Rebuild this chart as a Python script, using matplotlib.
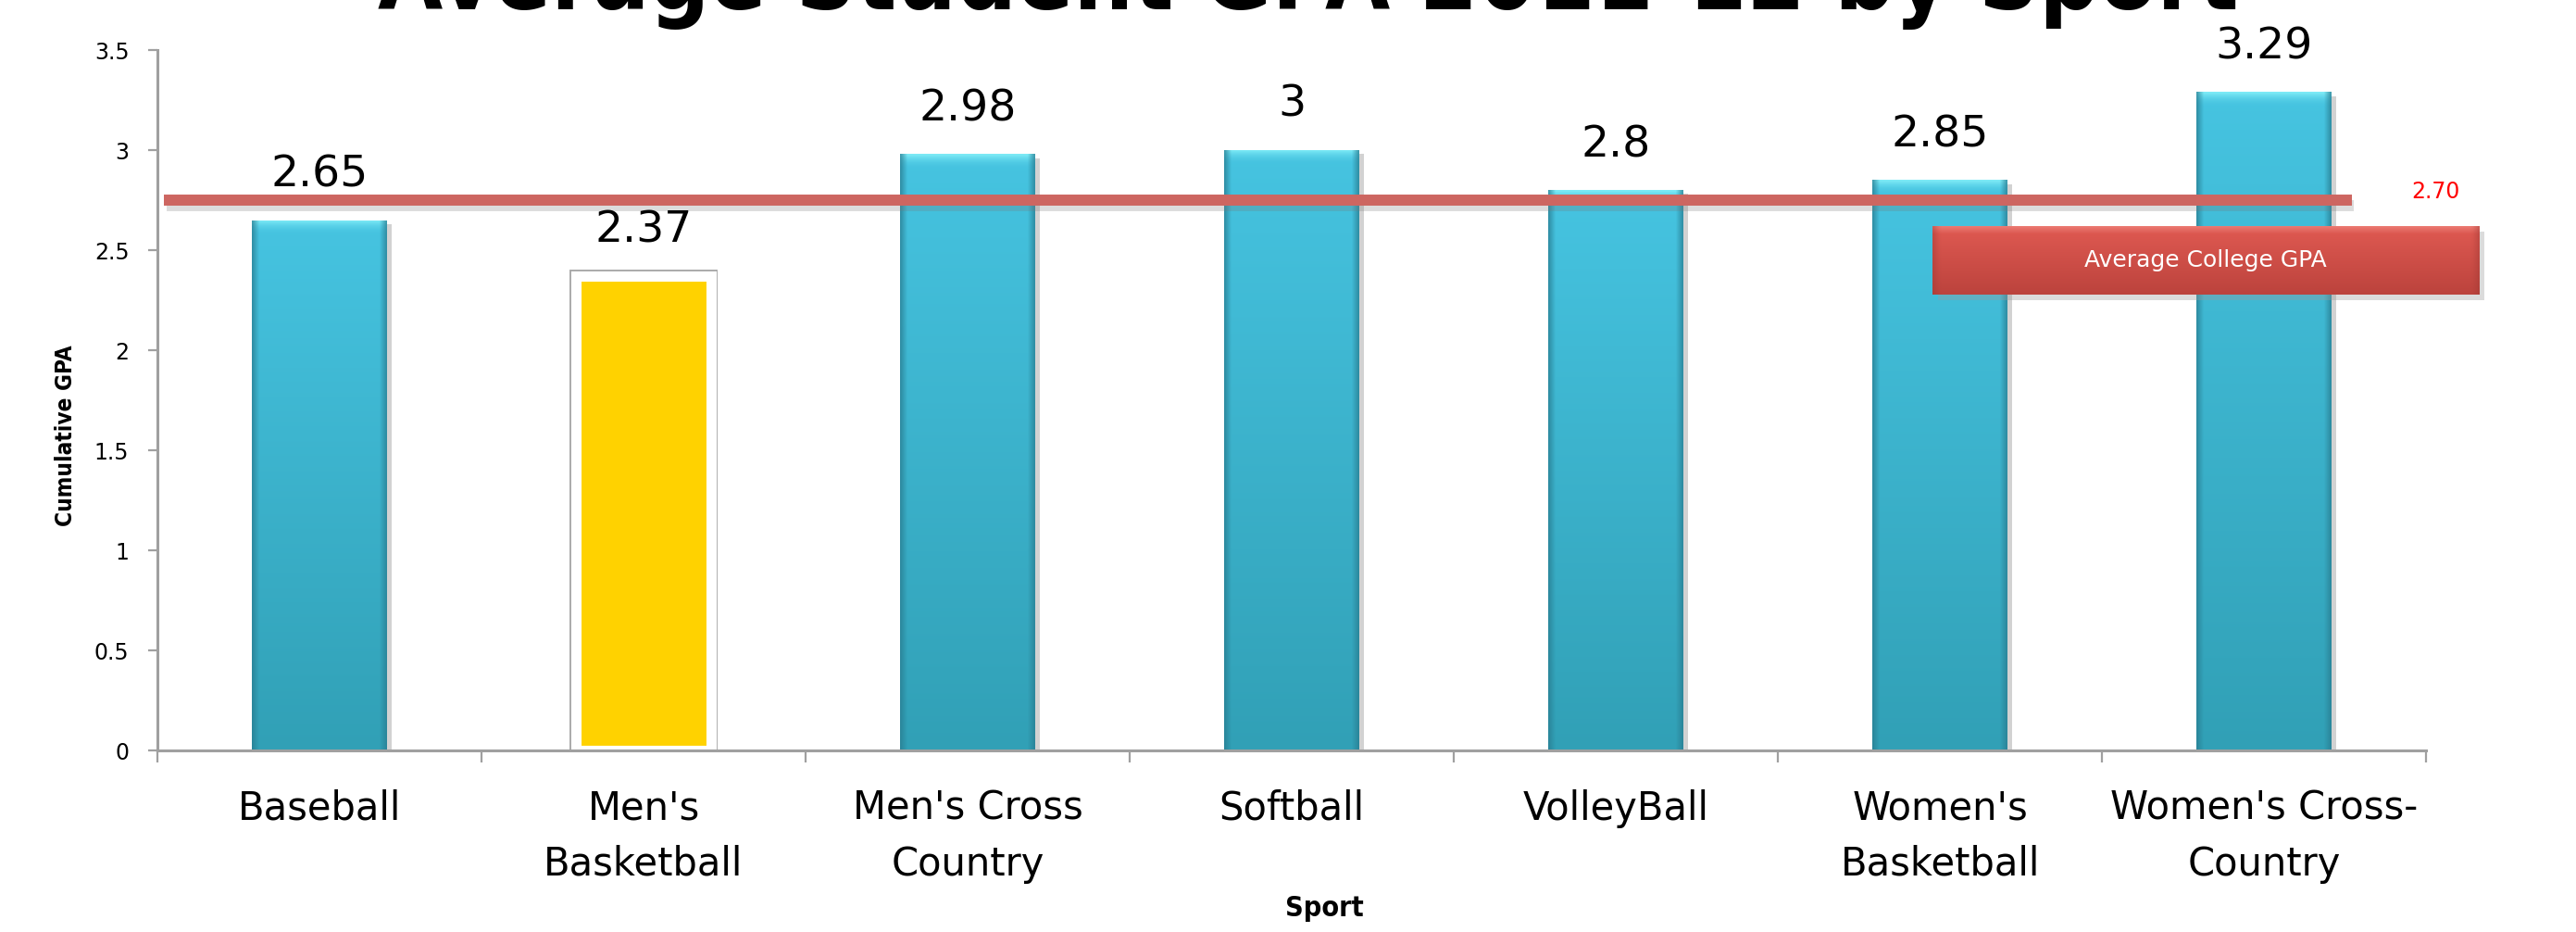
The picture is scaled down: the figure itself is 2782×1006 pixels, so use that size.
import numpy as np
import matplotlib
matplotlib.use("Agg")
import matplotlib.pyplot as plt
import matplotlib.patheffects as pe
from matplotlib.patches import Rectangle
from matplotlib.colors import to_rgb

# data
title = "Average Student GPA 2011-12 by Sport"
sports = ["Baseball", "Men's\nBasketball", "Men's Cross\nCountry", "Softball",
          "VolleyBall", "Women's\nBasketball", "Women's Cross-\nCountry"]
gpa = [2.65, 2.37, 2.98, 3.00, 2.80, 2.85, 3.29]
highlight = "Men's\nBasketball"
college_avg_text = "2.70"
college_avg_line = 2.75      # where the red line sits on the chart
college_line_span = (-0.48, 6.27)
yticks = [0, 0.5, 1, 1.5, 2, 2.5, 3, 3.5]
ytick_labels = ["0", "0.5", "1", "1.5", "2", "2.5", "3", "3.5"]

NARROW = ["Liberation Sans Narrow", "DejaVu Sans"]

fig = plt.figure(figsize=(27.82, 10.06), dpi=100)
ax = fig.add_axes([0.0611, 0.1948, 0.8807, 0.7515])

x = np.arange(len(sports))
bar_w = 0.415


def blue_fill(h):
    ny, nx = 300, 80
    t = np.linspace(0, 1, ny)[:, None]
    u = np.linspace(0, 1, nx)[None, :]
    bot = np.array(to_rgb("#31A0B6"))
    top = np.array(to_rgb("#46C4E1"))
    img = bot + (top - bot) * t[..., None]
    img = np.broadcast_to(img, (ny, nx, 3)).copy()
    d = (1 - t) * h
    wt = np.clip(1 - d / 0.07, 0, 1) ** 2 * 0.8
    hl = np.array(to_rgb("#8AF3FB"))
    img = img * (1 - wt[..., None]) + hl * wt[..., None]
    e = np.clip(1 - np.minimum(u, 1 - u) / 0.05, 0, 1) * 0.7
    dark = np.array(to_rgb("#287C90"))
    img = img * (1 - e[..., None]) + dark * e[..., None]
    return img


bars = ax.bar(x, gpa, width=bar_w, color="#42BCDB", zorder=2)
for b, name, v in zip(bars, sports, gpa):
    if name == highlight:
        b.set_facecolor("#FFD200")
        b.set_edgecolor("white")
        b.set_linewidth(8)
        b.set_path_effects([pe.Stroke(linewidth=10, foreground="#A8A8A8"), pe.Normal()])
    else:
        b.set_path_effects([pe.SimplePatchShadow(offset=(4, -3), shadow_rgbFace="#808080", alpha=0.35),
                            pe.Normal()])
        im = ax.imshow(blue_fill(v), extent=(b.get_x(), b.get_x() + b.get_width(), 0, v),
                       origin="lower", aspect="auto", interpolation="bilinear", zorder=2.1)
        im.set_clip_path(b)
    ax.annotate(f"{v:g}", (b.get_x() + b.get_width() / 2, v), xytext=(0, 26),
                textcoords="offset points", ha="center", va="baseline",
                fontsize=34, color="black", zorder=5)

# college average line
ax.plot(college_line_span, [college_avg_line, college_avg_line], color="#CD6661",
        lw=8.6, solid_capstyle="butt", zorder=4,
        path_effects=[pe.SimpleLineShadow(offset=(2, -4), shadow_color="#777777", alpha=0.25),
                      pe.Normal()])
ax.text(6.53, 2.79, college_avg_text, color="#FF0000", fontsize=17, ha="center",
        va="center", family=NARROW)

ax.set_xlim(-0.5, 6.5)
ax.set_ylim(0, 3.5)
ax.set_yticks(yticks)
ax.set_yticklabels(ytick_labels)
ax.set_xticks(x)
ax.set_xticklabels(sports, linespacing=1.55)
ax.set_xticks(np.arange(-0.5, len(sports), 1), minor=True)
ax.tick_params(axis="x", which="major", length=0, pad=30, labelsize=30)
ax.tick_params(axis="x", which="minor", length=9, width=1.6, color="#A0A0A0", direction="out")
ax.tick_params(axis="y", length=7, width=1.6, color="#A0A0A0", direction="out",
               pad=15, labelsize=17)
for s in ["top", "right"]:
    ax.spines[s].set_visible(False)
for s in ["left", "bottom"]:
    ax.spines[s].set_color("#A0A0A0")
    ax.spines[s].set_linewidth(2.2)

# "Average College GPA" box
bx, by, bw, bh = 0.7502, 0.6839, 0.2121, 0.0736
fig.patches.append(Rectangle((bx + 0.002, by - 0.006), bw, bh, transform=fig.transFigure,
                             facecolor="#9a9a9a", alpha=0.35, edgecolor="none", zorder=0.5))
bax = fig.add_axes([bx, by, bw, bh])
bax.set_zorder(1)
ny, nx = 60, 200
t = np.linspace(0, 1, ny)[:, None]
u = np.linspace(0, 1, nx)[None, :]
c0, c1 = np.array(to_rgb("#BC433D")), np.array(to_rgb("#E05A52"))
box_img = np.broadcast_to(c0 + (c1 - c0) * t[..., None], (ny, nx, 3)).copy()
wt = np.clip(1 - (1 - t) / 0.12, 0, 1) * 0.6
box_img = box_img * (1 - wt[..., None]) + np.array(to_rgb("#F5948C")) * wt[..., None]
ed = np.clip(1 - np.minimum(u, 1 - u) / 0.012, 0, 1) * 0.4
box_img = box_img * (1 - ed[..., None]) + np.array(to_rgb("#A03A35")) * ed[..., None]
bax.imshow(box_img, extent=(0, 1, 0, 1), origin="lower", aspect="auto", interpolation="bilinear")
bax.set_xlim(0, 1)
bax.set_ylim(0, 1)
bax.axis("off")
bax.text(0.5, 0.5, "Average College GPA", color="white", fontsize=18, ha="center", va="center")

# titles
ttl = fig.text(0.508, 0.990, title, ha="center", va="baseline", fontsize=94,
               fontweight="bold", family=NARROW, fontstretch="condensed")
fig.text(0.514, 0.025, "Sport", ha="center", va="center", fontsize=22,
         fontweight="bold", family=NARROW, fontstretch="condensed")
fig.text(0.0255, 0.533, "Cumulative GPA", ha="center", va="center", rotation=90,
         fontsize=17.5, fontweight="bold", family=NARROW, fontstretch="condensed")

# fit the title width to the picture
fig.canvas.draw()
wpx = ttl.get_window_extent().width
ttl.set_fontsize(ttl.get_fontsize() * 2007 / wpx)

fig.savefig("out.png", dpi=100)
